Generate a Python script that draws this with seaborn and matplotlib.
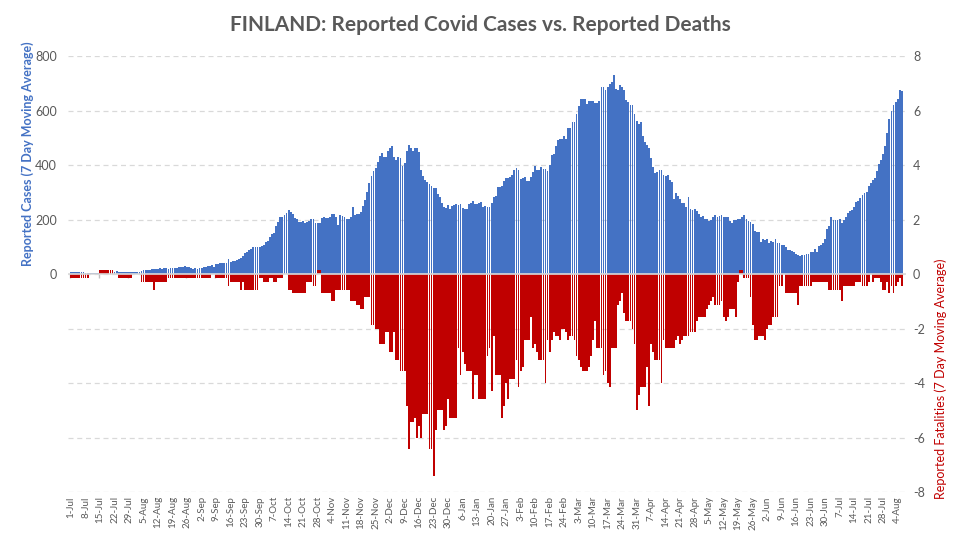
import numpy as np
import pandas as pd
import matplotlib
matplotlib.use("Agg")
import matplotlib.pyplot as plt
import seaborn as sns

# ---------------- data ----------------
START_DATE = "2020-07-01"

CASES = [
    7, 7, 7, 7, 7, 8, 8, 5, 5, 5,
    5, 5, 5, 4, 3, 3, 3, 3, 3, 3,
    3, 8, 12, 8, 8, 8, 8, 8, 8, 8,
    8, 8, 8, 8, 12, 16, 16, 16, 16, 19,
    19, 19, 19, 23, 19, 23, 21, 19, 23, 23,
    23, 23, 27, 27, 27, 30, 27, 27, 23, 19,
    23, 19, 23, 23, 27, 27, 30, 30, 34, 27,
    38, 38, 41, 41, 41, 41, 56, 45, 49, 49,
    52, 56, 60, 67, 78, 82, 89, 92, 100, 100,
    100, 100, 103, 107, 118, 122, 136, 147, 151, 176,
    191, 209, 209, 216, 224, 235, 227, 220, 205, 202,
    191, 191, 195, 187, 191, 195, 202, 202, 187, 187,
    187, 205, 209, 205, 205, 209, 220, 220, 209, 180,
    216, 213, 209, 202, 202, 209, 246, 216, 220, 220,
    227, 249, 271, 300, 333, 359, 377, 388, 410, 432,
    443, 428, 428, 451, 461, 468, 428, 417, 428, 424,
    395, 406, 450, 472, 461, 453, 461, 461, 446, 381,
    359, 344, 337, 329, 322, 315, 315, 293, 282, 260,
    246, 242, 253, 238, 249, 253, 257, 253, 257, 242,
    238, 238, 257, 260, 268, 257, 257, 260, 264, 246,
    249, 246, 246, 260, 282, 286, 319, 319, 322, 340,
    351, 351, 355, 362, 381, 388, 381, 348, 351, 355,
    340, 340, 355, 373, 395, 381, 381, 392, 384, 384,
    377, 399, 435, 439, 468, 490, 494, 497, 505, 497,
    537, 537, 559, 559, 589, 617, 643, 643, 643, 625,
    636, 636, 636, 629, 629, 636, 687, 687, 676, 687,
    698, 705, 731, 680, 676, 694, 687, 676, 640, 632,
    621, 621, 589, 563, 552, 559, 505, 483, 472, 461,
    424, 392, 370, 373, 381, 381, 362, 359, 362, 344,
    337, 275, 297, 286, 275, 260, 260, 246, 282, 238,
    235, 238, 231, 220, 209, 213, 202, 202, 195, 198,
    209, 216, 209, 213, 216, 209, 209, 209, 195, 187,
    198, 198, 202, 202, 209, 216, 202, 195, 191, 184,
    158, 155, 155, 118, 129, 125, 129, 114, 122, 118,
    129, 114, 114, 107, 107, 100, 89, 89, 85, 81,
    74, 71, 67, 71, 71, 74, 74, 81, 81, 92,
    81, 103, 107, 114, 129, 165, 176, 209, 198, 198,
    198, 202, 187, 198, 209, 224, 231, 235, 246, 264,
    268, 279, 290, 297, 300, 322, 333, 344, 351, 377,
    402, 417, 439, 468, 519, 567, 600, 622, 633, 643,
    676, 672,
]

DEATHS = [
    .14, .14, .14, .14, .14, .14, .14, .14, .14, 0,
    0, 0, 0, 0, -.14, -.14, -.14, -.14, -.14, -.14,
    -.14, 0, 0, .14, .14, .14, .14, .14, .14, .14,
    0, 0, 0, 0, .29, .29, .29, .29, .29, .29,
    .57, .29, .29, .29, .29, .29, .29, .14, .14, .14,
    .14, .14, .14, .14, .14, .14, .14, .14, .14, .14,
    .14, .14, .14, .14, .14, .14, .14, .14, 0, 0,
    .14, .14, .14, .14, .14, .14, .43, .29, .29, .29,
    .29, .29, .57, .29, .57, .57, .57, .57, .57, .57,
    .57, .14, .14, .29, .29, .29, .14, .14, .29, .29,
    .14, .14, .14, 0, 0, .57, .57, .71, .71, .71,
    .71, .71, .71, .71, .29, .29, .29, .43, .43, -.14,
    -.14, .71, .71, .71, .71, .71, 1.0, 1.0, .57, .57,
    .57, .57, .57, .57, .57, 1.0, 1.0, 1.0, 1.14, 1.14,
    1.29, 1.29, .86, .86, .86, 1.86, 1.86, 2.0, 2.0, 2.57,
    2.57, 2.57, 2.14, 2.14, 2.86, 2.86, 2.14, 3.14, 3.14, 3.57,
    3.57, 3.57, 4.86, 6.43, 5.43, 5.43, 5.29, 6.0, 5.57, 6.0,
    5.14, 5.14, 5.14, 6.43, 6.43, 7.43, 5.71, 5.0, 5.0, 5.0,
    5.71, 5.57, 4.57, 5.29, 5.29, 5.29, 5.29, 2.71, 3.71, 2.86,
    3.29, 3.57, 3.57, 3.57, 4.57, 3.71, 3.71, 4.57, 4.57, 4.57,
    4.57, 3.0, 2.71, 4.29, 2.29, 3.71, 3.71, 3.71, 5.29, 4.86,
    4.0, 4.57, 3.86, 3.86, 3.86, 3.14, 4.14, 3.57, 3.43, 2.43,
    2.43, 2.43, 1.57, 2.71, 2.57, 2.86, 3.14, 3.14, 3.14, 4.0,
    2.43, 2.86, 2.43, 2.14, 2.29, 2.29, 2.43, 2.0, 2.0, 2.14,
    2.43, 2.29, 2.29, 2.43, 3.0, 3.14, 3.43, 3.57, 3.57, 3.57,
    3.43, 3.0, 2.43, 1.71, 2.71, 2.71, 2.71, 3.71, 3.57, 4.0,
    4.14, 2.71, 2.71, 2.71, 1.14, 1.0, .71, 1.43, 1.71, 1.71,
    1.71, 2.0, 2.57, 5.0, 4.43, 4.14, 4.14, 4.14, 3.43, 4.86,
    2.57, 2.86, 3.14, 3.14, 3.14, 4.0, 2.43, 2.71, 2.71, 2.71,
    2.71, 2.71, 2.43, 2.29, 2.57, 2.43, 2.29, 2.29, 2.29, 2.14,
    2.14, 2.14, 1.71, 1.57, 1.57, 1.57, 1.57, 1.29, 1.14, 1.0,
    .86, 1.14, 1.14, 1.14, 1.0, 1.57, 1.71, 1.57, 1.29, 1.29,
    1.29, 1.57, .29, -.14, -.14, .14, .14, .14, .86, 1.86,
    2.43, 2.43, 2.29, 2.29, 2.29, 2.43, 2.0, 1.86, 1.86, 1.57,
    1.57, 1.57, .43, .43, 0, .71, .71, .71, .71, .71,
    .71, 1.14, .43, .43, .43, .43, .43, .43, .29, .29,
    .29, .29, .29, .29, .29, .29, .57, .57, .57, .57,
    .57, .57, 1.0, .43, .43, .43, .43, .43, .43, .29,
    .29, .29, .43, .43, .43, .29, 0, .29, .14, .14,
    .14, .29, .57, .57, .29, .71, .43, .71, .43, .29,
    .14, .43,
]

TICK_LABELS = [
    "1-Jul", "8-Jul", "15-Jul", "22-Jul", "29-Jul", "5-Aug", "12-Aug", "19-Aug",
    "26-Aug", "2-Sep", "9-Sep", "16-Sep", "23-Sep", "30-Sep", "7-Oct", "14-Oct",
    "21-Oct", "28-Oct", "4-Nov", "11-Nov", "18-Nov", "25-Nov", "2-Dec", "9-Dec",
    "16-Dec", "23-Dec", "30-Dec", "6-Jan", "13-Jan", "20-Jan", "27-Jan", "3-Feb",
    "10-Feb", "17-Feb", "24-Feb", "3-Mar", "10-Mar", "17-Mar", "24-Mar", "31-Mar",
    "7-Apr", "14-Apr", "21-Apr", "28-Apr", "5-May", "12-May", "19-May", "26-May",
    "2-Jun", "9-Jun", "16-Jun", "23-Jun", "30-Jun", "7-Jul", "14-Jul", "21-Jul",
    "28-Jul", "4-Aug",
]

LEFT_TICKS = [-800, -600, -400, -200, 0, 200, 400, 600, 800]
LEFT_TICK_LABELS = ["", "", "", "", "0", "200", "400", "600", "800"]
RIGHT_TICKS = [-8, -6, -4, -2, 0, 2, 4, 6, 8]

assert len(CASES) == len(DEATHS)
N = len(CASES)

dates = pd.date_range(START_DATE, periods=N)
df = pd.DataFrame({
    "day": np.arange(N),
    "date": dates,
    "cases": CASES,
    "deaths_down": -np.array(DEATHS, dtype=float),
})

# ---------------- style ----------------
sns.set_theme(style="white")
plt.rcParams["font.family"] = ["Lato", "DejaVu Sans"]
plt.rcParams["axes.unicode_minus"] = False

BLUE = "#4472C4"
RED = "#C00000"
GREY_TXT = "#595959"
GRID = "#d9d9d9"

fig = plt.figure(figsize=(9.6, 5.38), dpi=100)
ax = fig.add_axes([0.0708, 0.0855, 0.8729, 0.8104])

sns.barplot(data=df, x="day", y="cases", color=BLUE, saturation=1,
            width=0.88, errorbar=None, linewidth=0, edgecolor="none",
            ax=ax, zorder=2)
ax2 = ax.twinx()
sns.barplot(data=df, x="day", y="deaths_down", color=RED, saturation=1,
            width=0.88, errorbar=None, linewidth=0, edgecolor="none",
            ax=ax2, zorder=2)

for a in (ax, ax2):
    for p in a.patches:
        p.set_antialiased(False)
        p.set_edgecolor("none")
        p.set_linewidth(0)
    for s in a.spines.values():
        s.set_visible(False)

xlim = (-1.5, N + 1)
ax.set_xlim(xlim)
ax2.set_xlim(xlim)
ax.set_ylim(-800, 800)
ax2.set_ylim(-8, 8)

# grid lines (dashed)
ax.set_yticks(LEFT_TICKS)
ax.set_yticklabels(LEFT_TICK_LABELS)
ax.yaxis.grid(True, color=GRID, linestyle=(0, (4, 3)), linewidth=0.9, zorder=0)
ax.xaxis.grid(False)
ax.set_axisbelow(True)

ax2.set_yticks(RIGHT_TICKS)
ax2.set_yticklabels([str(v) for v in RIGHT_TICKS])
ax2.grid(False)

# horizontal axis line at zero with small category tick marks
ax2.axhline(0, color=GRID, linewidth=1.2, zorder=5)
ax2.vlines(np.arange(0, N, 14) - 0.5, -0.13, 0, color="#bfbfbf",
           linewidth=1.0, zorder=1)

ax.set_xticks(np.arange(0, N, 7))
ax.set_xticklabels(TICK_LABELS)
ax.tick_params(axis="x", length=0, pad=3, labelrotation=90, labelsize=7,
               colors=GREY_TXT)
ax.tick_params(axis="y", length=0, pad=8, labelsize=9, colors=GREY_TXT)
ax2.tick_params(axis="y", length=0, pad=5, labelsize=9, colors=GREY_TXT)

ax.set_xlabel("")
ax.set_ylabel("Reported Cases (7 Day Moving Average)", color=BLUE,
              fontweight="bold", fontsize=9)
ax.yaxis.set_label_coords(-0.041, 0.775)
ax2.set_ylabel("Reported Fatalities (7 Day Moving Average)", color=RED,
               fontsize=9)
ax2.yaxis.set_label_coords(1.034, 0.26)

fig.text(0.5, 1 - 25 / 538, "FINLAND: Reported Covid Cases vs. Reported Deaths",
         ha="center", va="center", fontsize=15, fontweight="bold",
         color=GREY_TXT)

fig.savefig("out.png", dpi=100, facecolor="white")
